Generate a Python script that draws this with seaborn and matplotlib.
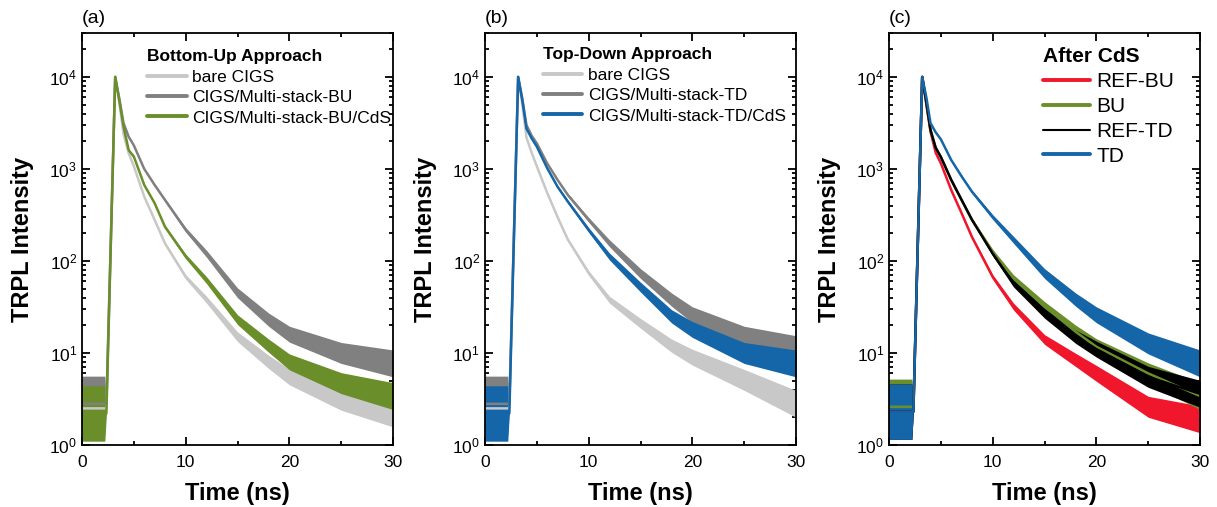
import numpy as np
import matplotlib
matplotlib.use("Agg")
import matplotlib.pyplot as plt
import seaborn as sns
from matplotlib.ticker import LogLocator, MultipleLocator, NullFormatter

sns.set_style("ticks")
plt.rcParams["font.family"] = ["Liberation Sans", "DejaVu Sans"]
plt.rcParams["mathtext.fontset"] = "custom"
plt.rcParams["mathtext.rm"] = "Liberation Sans"
plt.rcParams["mathtext.it"] = "Liberation Sans:italic"
plt.rcParams["mathtext.bf"] = "Liberation Sans:bold"
for key in ["text.color", "axes.labelcolor", "xtick.color", "ytick.color", "axes.edgecolor"]:
    plt.rcParams[key] = "black"

# time grid (ns) and values
time_ns = [0, 2.2, 2.35, 3.2, 3.6, 4, 4.5, 5, 6, 7, 8, 10, 12, 15, 18, 20, 25, 30]
# rough width of the photon-count noise band (multiplicative)
noise = [2.0, 2.0, 1.0, 1.0, 1.0, 1.0, 1.0, 1.01, 1.02, 1.03, 1.04,
         1.06, 1.09, 1.13, 1.18, 1.22, 1.3, 1.4]

bu_bare = [2.5, 2.5, 2.5, 10000, 5200, 2400, 1480, 1070, 500, 280, 155, 67, 38, 15, 8, 5.5, 3.1, 2.2]
bu_stack = [2.8, 2.8, 2.8, 10000, 5800, 3150, 2240, 1800, 1000, 670, 460, 218, 120, 45, 23, 16, 10, 7.7]
bu_cds = [2.2, 2.2, 2.2, 10000, 5500, 2900, 1600, 1360, 670, 425, 235, 112, 62, 23, 12, 8, 4.7, 3.4]

td_bare = [2.5, 2.5, 2.5, 10000, 5000, 2200, 1500, 1070, 550, 300, 170, 74, 38, 21, 12, 9, 5.1, 2.8]
td_stack = [2.8, 2.8, 2.8, 10000, 5800, 3000, 2300, 1900, 1150, 760, 520, 280, 156, 73, 38, 26, 15, 11]
td_cds = [2.2, 2.2, 2.2, 10000, 5600, 2750, 2150, 1750, 1020, 640, 440, 217, 112, 52, 25, 18, 10, 7.7]

cds_ref_bu = [2.3, 2.3, 2.3, 10000, 5000, 2550, 1500, 1150, 590, 330, 182, 67, 32, 14, 8.4, 6, 2.6, 1.9]
cds_bu = [2.6, 2.6, 2.6, 10000, 5300, 2650, 1700, 1350, 760, 460, 280, 126, 65, 32, 17, 11.7, 6, 3.4]
cds_ref_td = [2.3, 2.3, 2.3, 10000, 5300, 2650, 1700, 1350, 760, 460, 280, 120, 57, 27, 15, 11, 5.5, 3.6]
cds_td = [2.3, 2.3, 2.3, 10000, 6000, 3150, 2500, 2100, 1250, 830, 565, 300, 170, 73, 38, 26, 12.7, 7.7]

LIGHT = "#c8c8c8"
DARK = "#808080"
GREEN = "#6a8f2a"
BLUE = "#1566a8"
RED = "#f0162c"

panels = [
    ("(a)", "Bottom-Up Approach",
     [("bare CIGS", bu_bare, LIGHT), ("CIGS/Multi-stack-BU", bu_stack, DARK),
      ("CIGS/Multi-stack-BU/CdS", bu_cds, GREEN)], 0.21, 12.5, 2.3, 0.96, 0.3),
    ("(b)", "Top-Down Approach",
     [("bare CIGS", td_bare, LIGHT), ("CIGS/Multi-stack-TD", td_stack, DARK),
      ("CIGS/Multi-stack-TD/CdS", td_cds, BLUE)], 0.185, 12.5, 2.3, 0.965, 0.3),
    ("(c)", "After CdS",
     [("REF-BU", cds_ref_bu, RED), ("BU", cds_bu, GREEN),
      ("REF-TD", cds_ref_td, "black"), ("TD", cds_td, BLUE)], 0.495, 15, 2.25, 0.965, 0.28),
]

fig = plt.figure(figsize=(12.17, 5.07), dpi=100)
lefts = [0.0674, 0.3985, 0.7305]

t = np.array(time_ns)
spread = np.array(noise)
for left, (tag, title, series, lx, lfs, hl, ly, lsp) in zip(lefts, panels):
    ax = fig.add_axes([left, 0.1223, 0.2556, 0.8126])
    for label, vals, col in series:
        v = np.array(vals, dtype=float)
        ax.fill_between(t, v / spread, v * spread, color=col, lw=0)
        sns.lineplot(x=t, y=v, ax=ax, color=col, lw=1.8, label=label)
    ax.set_yscale("log")
    ax.set_xlim(0, 30)
    ax.set_ylim(1, 3e4)
    ax.xaxis.set_major_locator(MultipleLocator(10))
    ax.xaxis.set_minor_locator(MultipleLocator(5))
    ax.yaxis.set_major_locator(LogLocator(base=10, numticks=10))
    ax.yaxis.set_minor_locator(LogLocator(base=10, subs=np.arange(2, 10), numticks=20))
    ax.yaxis.set_minor_formatter(NullFormatter())
    ax.tick_params(which="both", direction="in", top=True, right=True, width=1.3)
    ax.tick_params(which="major", length=6, labelsize=12.5)
    ax.tick_params(axis="x", which="major", pad=7)
    ax.tick_params(which="minor", length=3)
    for sp in ax.spines.values():
        sp.set_linewidth(1.3)
    ax.set_xlabel("Time (ns)", fontsize=17, fontweight="bold", labelpad=9)
    ax.set_ylabel("TRPL Intensity", fontsize=17, fontweight="bold", labelpad=11)
    ax.text(0, 1.015, tag, transform=ax.transAxes, fontsize=14, ha="left", va="bottom")
    leg = ax.legend(title=title, loc="upper left", bbox_to_anchor=(lx, ly),
                    frameon=False, fontsize=lfs, alignment="left",
                    title_fontproperties={"weight": "bold", "size": lfs},
                    handlelength=hl, handletextpad=0.3, labelspacing=lsp,
                    borderpad=0, borderaxespad=0)
    for h in leg.get_lines():
        h.set_linewidth(1.5 if h.get_color() == "black" else 2.8)

fig.savefig("out.png", dpi=100)
